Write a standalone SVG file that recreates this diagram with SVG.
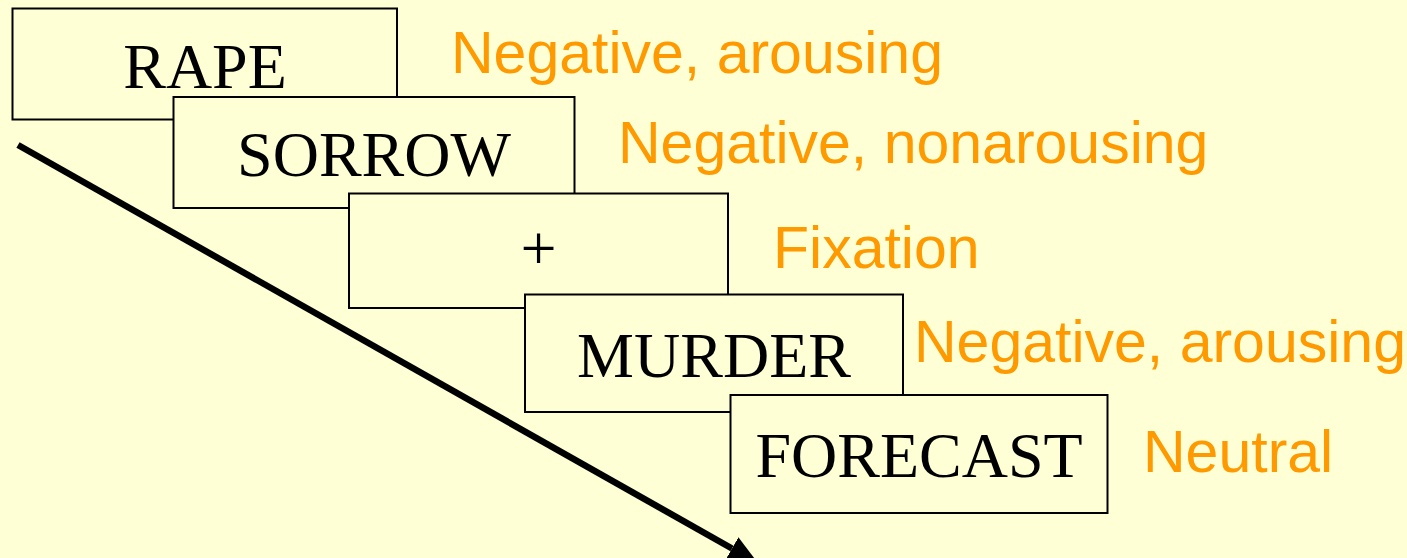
<svg xmlns="http://www.w3.org/2000/svg" width="1407" height="558" viewBox="0 0 1407 558">
<style>
.box{fill:#FFFFD5;stroke:#000;stroke-width:2}
.word{font-family:"Liberation Serif","Times New Roman",serif;font-size:64px;fill:#000;text-anchor:middle}
.lab{font-family:"Liberation Sans",Arial,sans-serif;font-size:59px;fill:#FF9900}
</style>
<defs>
<marker id="ah" markerUnits="userSpaceOnUse" markerWidth="30" markerHeight="26" refX="0" refY="13" orient="auto" viewBox="0 0 30 26">
<path d="M0,0 L30,13 L0,26 z" fill="#000"/>
</marker>
</defs>
<rect width="1407" height="558" fill="#FFFFD5"/>
<g id="connectors">
<line x1="18" y1="145" x2="732" y2="548.5" stroke="#000" stroke-width="6.5" marker-end="url(#ah)"/>
</g>
<g id="n1"><rect class="box" x="12.5" y="8.5" width="384.5" height="111"/><text class="word" x="205" y="88">RAPE</text></g>
<g id="n2"><rect class="box" x="173.5" y="97" width="401" height="111"/><text class="word" x="374" y="176">SORROW</text></g>
<g id="n3"><rect class="box" x="349" y="193.5" width="379" height="114.5"/><text class="word" x="538.5" y="270">+</text></g>
<g id="n4"><rect class="box" x="525" y="294.5" width="378" height="117.5"/><text class="word" x="714" y="377">MURDER</text></g>
<g id="n5"><rect class="box" x="730.5" y="395" width="377" height="118"/><text class="word" x="919" y="477">FORECAST</text></g>
<g id="labels">
<text class="lab" x="451" y="73">Negative, arousing</text>
<text class="lab" x="618" y="163">Negative, nonarousing</text>
<text class="lab" x="773" y="268">Fixation</text>
<text class="lab" x="914" y="362">Negative, arousing</text>
<text class="lab" x="1143" y="472">Neutral</text>
</g>
</svg>
